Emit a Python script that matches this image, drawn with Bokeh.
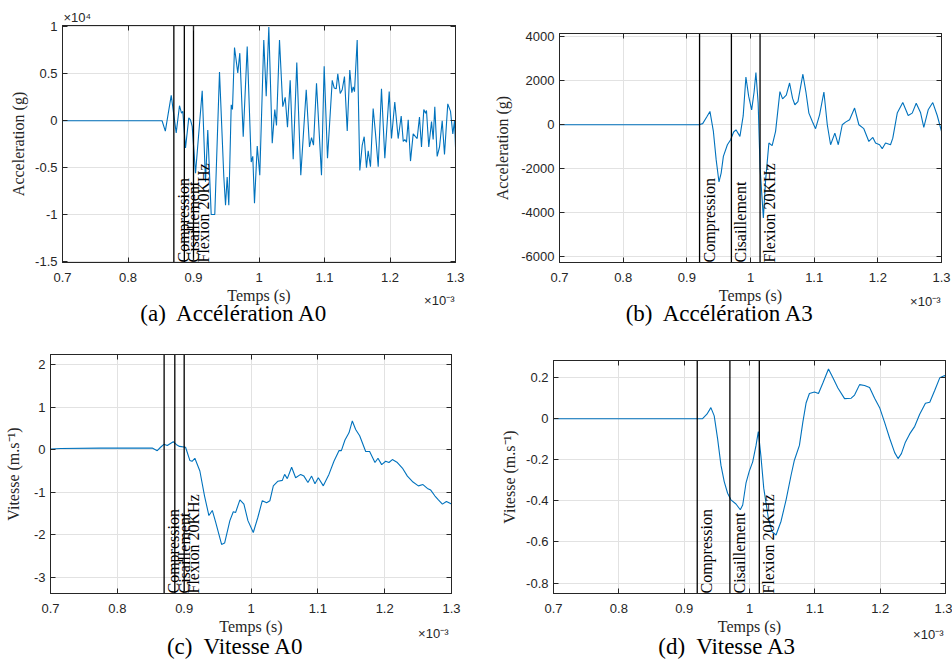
import math
from bokeh.plotting import figure
from bokeh.layouts import column, row
from bokeh.models import FixedTicker, CustomJSTickFormatter, Label, Range1d, LinearAxis
from bokeh.core.properties import value
from bokeh.embed import file_html
from bokeh.resources import INLINE

# ---------------- data ----------------
X_TICKS = [0.7, 0.8, 0.9, 1.0, 1.1, 1.2, 1.3]          # time, x 1e-3 s
MARK_LABELS = ["Compression", "Cisaillement", "Flexion 20KHz"]
MARKS_A0 = [0.870, 0.886, 0.900]
MARKS_A3 = [0.920, 0.970, 1.015]

# (a) acceleration A0 (x 1e4 g)
ACC_A0_T = [0.700, 0.750, 0.800, 0.852, 0.857, 0.866, 0.8736, 0.8786, 0.8817, 0.8837,
            0.8878, 0.8928, 0.8954, 0.8980, 0.9031, 0.9133, 0.9183, 0.9218, 0.9270, 0.9325,
            0.9397, 0.9463, 0.9489, 0.9514, 0.9539, 0.9576, 0.9595, 0.9626, 0.9676, 0.9707,
            0.9759, 0.9820, 0.9881, 0.9905, 0.9931, 0.9973, 1.0012, 1.0073, 1.0110, 1.0150,
            1.0202, 1.0241, 1.0267, 1.0313, 1.0363, 1.0400, 1.0435, 1.0476, 1.0522, 1.0577,
            1.0638, 1.0721, 1.0771, 1.0802, 1.0832, 1.0878, 1.0954, 1.0995, 1.1046, 1.1118,
            1.1148, 1.1179, 1.1203, 1.1240, 1.1270, 1.1305, 1.1347, 1.1386, 1.1417, 1.1438,
            1.1458, 1.1499, 1.1539, 1.1576, 1.1606, 1.1641, 1.1667, 1.1702, 1.1743, 1.1779,
            1.1820, 1.1870, 1.1921, 1.1988, 1.2023, 1.2073, 1.2125, 1.2171, 1.2202, 1.2226,
            1.2252, 1.2278, 1.2313, 1.2354, 1.2389, 1.2415, 1.2450, 1.2481, 1.2516, 1.2542,
            1.2557, 1.2592, 1.2634, 1.2659, 1.2684, 1.2720, 1.2756, 1.2797, 1.2832, 1.2882,
            1.2924, 1.2959, 1.2985, 1.3000]
ACC_A0 = [0, 0, 0, 0, -0.11, 0.27, -0.13, 0.16, 0.08, 0.10,
          -0.29, 0.03, 0.01, -0.06, -0.56, 0.32, -0.65, -0.10, -1.00, -1.00,
          0.52, -0.60, -0.90, -0.60, -0.90, 0.17, 0.12, 0.78, 0.51, 0.72,
          -0.17, 0.79, -0.44, -0.38, -0.88, -0.27, -0.58, 0.86, 0.26, 1.00,
          -0.24, 0.12, -0.05, 0.86, 0.15, 0.25, -0.07, 0.43, -0.41, 0.62,
          -0.58, 0.33, -0.28, -0.18, -0.26, 0.40, -0.58, 0.58, -0.40, 0.43,
          0.35, 0.34, 0.50, 0.29, 0.33, 0.47, -0.11, 0.54, 0.30, 0.36,
          0.31, 0.86, -0.53, -0.26, -0.17, -0.50, -0.32, -0.49, 0.13, -0.14,
          -0.49, 0.34, -0.40, 0.31, -0.19, 0.20, -0.19, 0.05, -0.22, -0.20,
          -0.23, 0.01, -0.43, -0.14, -0.17, -0.19, 0.04, -0.28, 0.12, 0.08,
          0.11, -0.28, -0.01, -0.20, 0.15, -0.38, -0.28, 0.00, -0.36, 0.18,
          0.10, -0.14, 0.00, -0.28]

# (b) acceleration A3 (g)
ACC_A3_T = [0.700, 0.800, 0.9191, 0.9249, 0.9312, 0.9363, 0.9417, 0.9461, 0.9505, 0.9539,
            0.9574, 0.9637, 0.9688, 0.9735, 0.9772, 0.9834, 0.9885, 0.9928, 0.9971, 1.0018,
            1.0057, 1.0085, 1.0120, 1.0151, 1.0202, 1.0238, 1.0289, 1.0340, 1.0394, 1.0462,
            1.0504, 1.0562, 1.0614, 1.0661, 1.0697, 1.0745, 1.0823, 1.0870, 1.0917, 1.0971,
            1.1022, 1.1085, 1.1153, 1.1206, 1.1258, 1.1325, 1.1379, 1.1441, 1.1493, 1.1556,
            1.1635, 1.1702, 1.1780, 1.1859, 1.1922, 1.1964, 1.2027, 1.2069, 1.2121, 1.2199,
            1.2235, 1.2305, 1.2392, 1.2477, 1.2540, 1.2603, 1.2670, 1.2722, 1.2791, 1.2863,
            1.2933, 1.3000]
ACC_A3 = [0, 0, 0, 50, 350, 605, -305, -1600, -2605, -2200,
          -1440, -910, -680, -330, -230, -530, 400, 2170, 1300, 680,
          1500, 2380, 1000, -2000, -4240, -2500, -830, -950, -300, 1510,
          1180, 1350, 1900, 1200, 910, 1050, 2300, 1500, 530, 150,
          -180, 450, 1490, 0, -910, -380, -910, 0, 120, 230,
          760, 0, -180, -760, -580, -830, -910, -1090, -830, -910,
          -610, 530, 1010, 420, 530, 980, 560, -120, 680, 1010,
          420, -300]

# (c) velocity A0 (m/s)
VEL_A0_T = [0.700, 0.715, 0.775, 0.8522, 0.8597, 0.8647, 0.8696, 0.8747, 0.8837, 0.8886,
            0.8931, 0.9021, 0.9085, 0.9118, 0.9160, 0.9235, 0.9305, 0.9370, 0.9421, 0.9470,
            0.9560, 0.9605, 0.9684, 0.9735, 0.9769, 0.9834, 0.9894, 0.9954, 1.0034, 1.0103,
            1.0169, 1.0234, 1.0283, 1.0334, 1.0403, 1.0469, 1.0503, 1.0543, 1.0608, 1.0668,
            1.0743, 1.0792, 1.0852, 1.0907, 1.0957, 1.1007, 1.1082, 1.1166, 1.1241, 1.1316,
            1.1352, 1.1406, 1.1466, 1.1516, 1.1566, 1.1626, 1.1716, 1.1775, 1.1855, 1.1900,
            1.1955, 1.2015, 1.2064, 1.2115, 1.2190, 1.2265, 1.2340, 1.2424, 1.2504, 1.2573,
            1.2639, 1.2689, 1.2753, 1.2804, 1.2864, 1.2924, 1.3000]
VEL_A0 = [0.02, 0.03, 0.04, 0.04, -0.02, 0.06, 0.13, 0.10, 0.19, 0.12,
          0.08, 0.06, -0.25, -0.27, -0.20, -0.50, -1.09, -1.55, -1.43, -1.70,
          -2.23, -2.20, -1.67, -1.46, -1.48, -1.18, -1.28, -1.67, -1.95, -1.59,
          -1.20, -1.25, -1.20, -0.85, -0.74, -0.72, -0.58, -0.68, -0.41, -0.66,
          -0.58, -0.62, -0.77, -0.62, -0.80, -0.66, -0.85, -0.58, -0.27, -0.02,
          -0.02, 0.23, 0.40, 0.68, 0.48, 0.33, -0.04, -0.04, -0.30, -0.20,
          -0.35, -0.27, -0.30, -0.23, -0.30, -0.43, -0.62, -0.76, -0.85, -0.82,
          -0.91, -0.95, -1.09, -1.18, -1.28, -1.22, -1.28]

# (d) velocity A3 (m/s)
VEL_A3_T = [0.700, 0.800, 0.9282, 0.9348, 0.9409, 0.9460, 0.9512, 0.9563, 0.9613, 0.9665,
            0.9716, 0.9793, 0.9859, 0.9896, 0.9946, 0.9997, 1.0049, 1.0100, 1.0135, 1.0176,
            1.0218, 1.0288, 1.0345, 1.0406, 1.0483, 1.0560, 1.0637, 1.0687, 1.0764, 1.0816,
            1.0867, 1.0917, 1.0994, 1.1056, 1.1123, 1.1209, 1.1277, 1.1353, 1.1455, 1.1557,
            1.1608, 1.1685, 1.1761, 1.1838, 1.1915, 1.1992, 1.2068, 1.2145, 1.2222, 1.2274,
            1.2325, 1.2386, 1.2452, 1.2529, 1.2605, 1.2693, 1.2759, 1.2836, 1.2912, 1.2989,
            1.3000]
VEL_A3 = [0, 0, 0, 0.022, 0.054, 0.014, -0.098, -0.226, -0.306, -0.363,
          -0.395, -0.415, -0.443, -0.420, -0.314, -0.255, -0.210, -0.130, -0.063, -0.186,
          -0.338, -0.483, -0.550, -0.566, -0.499, -0.395, -0.274, -0.202, -0.130, -0.018,
          0.078, 0.123, 0.130, 0.123, 0.174, 0.242, 0.199, 0.150, 0.098, 0.100,
          0.115, 0.166, 0.162, 0.152, 0.100, 0.054, -0.018, -0.095, -0.165, -0.194,
          -0.170, -0.114, -0.074, -0.037, 0.022, 0.075, 0.080, 0.139, 0.199, 0.210,
          0.205]

YTICKS_ACC_A0 = [-1.5, -1, -0.5, 0, 0.5, 1]
YTICKS_ACC_A3 = [-6000, -4000, -2000, 0, 2000, 4000]
YTICKS_VEL_A0 = [-3, -2, -1, 0, 1, 2]
YTICKS_VEL_A3 = [-0.8, -0.6, -0.4, -0.2, 0, 0.2]

# ---------------- styling ----------------
AX = "#262626"
BLUE = "#0072BD"
SANS = "Liberation Sans"
SERIF = "Liberation Serif"
WL, WR, H = 484, 468, 331


def side_label(p, side, x, y, text, size, align, font=SANS, color=AX):
    """Text placed at canvas pixel (x, y), held in a side panel so it is not clipped."""
    p.add_layout(Label(x=x, y=y, x_units="canvas", y_units="canvas", text=text,
                       text_align=align, text_baseline="middle",
                       text_font=font, text_font_size=size, text_color=color), side)


def mirror_axis(ticks):
    """Tick marks only (no labels) for the top and right edges of the box."""
    return LinearAxis(ticker=FixedTicker(ticks=ticks),
                      formatter=CustomJSTickFormatter(code="return '';"),
                      major_label_text_font_size="0px", major_label_standoff=0,
                      major_tick_in=5, major_tick_out=0, minor_tick_line_color=None,
                      axis_line_color=AX, major_tick_line_color=AX)


def panel(t, y, yrange, yticks, ylabel, width, border, ylab_standoff):
    left, right, top, bottom = border
    p = figure(width=width, height=H, x_range=Range1d(0.7, 1.3), y_range=Range1d(*yrange),
               output_backend="svg", toolbar_location=None, title=None,
               min_border_left=left, min_border_right=right,
               min_border_top=top, min_border_bottom=bottom)
    try:
        p.frame_align = False
    except Exception:
        pass
    p.background_fill_color = "white"
    p.border_fill_color = "white"
    p.outline_line_color = AX
    p.outline_line_width = 1

    fmt = CustomJSTickFormatter(code="return String(Math.round(tick*10000)/10000);")
    p.xaxis.ticker = FixedTicker(ticks=X_TICKS)
    p.yaxis.ticker = FixedTicker(ticks=yticks)
    p.xaxis.formatter = fmt
    p.yaxis.formatter = fmt
    p.xgrid.ticker = FixedTicker(ticks=X_TICKS)
    p.ygrid.ticker = FixedTicker(ticks=yticks)
    for g in (p.xgrid, p.ygrid):
        g.grid_line_color = "#e2e2e2"
        g.grid_line_width = 1

    for ax in (p.xaxis[0], p.yaxis[0]):
        ax.major_tick_in = 5
        ax.major_tick_out = 0
        ax.minor_tick_line_color = None
        ax.axis_line_color = AX
        ax.major_tick_line_color = AX
        ax.major_label_text_font = SANS
        ax.major_label_text_font_size = "13px"
        ax.major_label_text_color = AX
        ax.axis_label_text_font = SERIF
        ax.axis_label_text_font_size = "16px"
        ax.axis_label_text_font_style = "normal"
        ax.axis_label_text_color = AX
    p.xaxis.major_label_standoff = 10
    p.xaxis.axis_label_standoff = 2
    p.yaxis.major_label_standoff = 5
    p.yaxis.axis_label_standoff = ylab_standoff
    p.xaxis.axis_label = "Temps (s)"
    p.yaxis.axis_label = ylabel

    p.add_layout(mirror_axis(X_TICKS), "above")
    p.add_layout(mirror_axis(yticks), "right")

    p.line(t, y, line_color=BLUE, line_width=1.1)
    return p


def add_marks(p, marks, yrange):
    y0, y1 = yrange
    p.segment(x0=marks, y0=[y0] * len(marks), x1=marks, y1=[y1] * len(marks),
              line_color="black", line_width=1.3)
    p.text(x=marks, y=[y0] * len(marks), text=MARK_LABELS, angle=math.pi / 2,
           text_align="left", text_baseline="top", x_offset=1,
           text_font=value(SERIF), text_font_size="16px", text_color="black")


YR_A = (-1.511, 1.015)
YR_B = (-6272, 4154)
YR_C = (-3.388, 2.247)
YR_D = (-0.851, 0.2835)
XMULT = "\u00d710\u207b\u00b3"

pa = panel(ACC_A0_T, ACC_A0, YR_A, YTICKS_ACC_A0, "Acceleration (g)", WL, (62, 29, 25, 69), 5)
add_marks(pa, MARKS_A0, YR_A)
side_label(pa, "right", 63, 17, "\u00d710\u2074", "13px", "left")
side_label(pa, "above", 454, 300, XMULT, "13px", "right")
side_label(pa, "below", 234, 313, "(a)\u00a0 Acc\u00e9l\u00e9ration A0", "23px", "center",
           font=SERIF, color="black")

pb = panel(ACC_A3_T, ACC_A3, YR_B, YTICKS_ACC_A3, "Acceleration (g)", WR, (75, 11, 33, 68), 7)
add_marks(pb, MARKS_A3, YR_B)
side_label(pb, "above", 456, 301, XMULT, "13px", "right")
side_label(pb, "below", 236, 313, "(b)\u00a0 Acc\u00e9l\u00e9ration A3", "23px", "center",
           font=SERIF, color="black")

pc = panel(VEL_A0_T, VEL_A0, YR_C, YTICKS_VEL_A0, "Vitesse (m.s\u207b\u00b9)", WL, (50, 33, 23, 66), 9)
add_marks(pc, MARKS_A0, YR_C)
side_label(pc, "right", 448, 302, XMULT, "13px", "right")
side_label(pc, "below", 235, 315, "(c)\u00a0 Vitesse A0", "23px", "center",
           font=SERIF, color="black")

pd = panel(VEL_A3_T, VEL_A3, YR_D, YTICKS_VEL_A3, "Vitesse (m.s\u207b\u00b9)", WR, (69, 7, 29, 66), 5)
add_marks(pd, MARKS_A3, YR_D)
side_label(pd, "above", 459, 303, XMULT, "13px", "right")
side_label(pd, "below", 243, 315, "(d)\u00a0 Vitesse A3", "23px", "center",
           font=SERIF, color="black")

layout = column(row(pa, pb), row(pc, pd))
open("out.html", "w").write(file_html(layout, INLINE, title="Acc\u00e9l\u00e9ration et vitesse"))
